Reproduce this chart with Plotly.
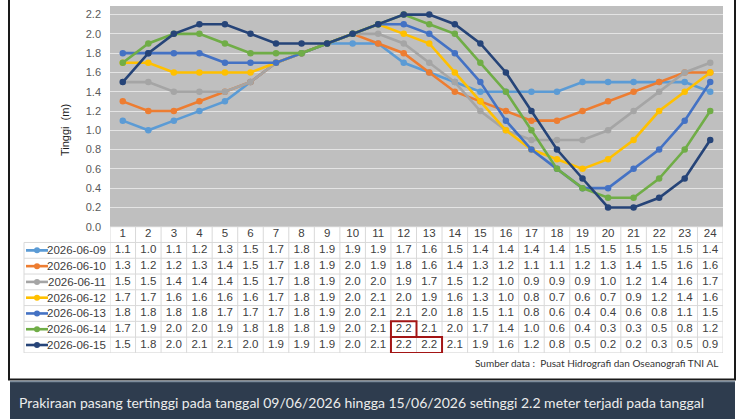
import plotly.graph_objects as go

W, H = 750, 420

hours = list(range(1, 25))
dates = ["2026-06-09", "2026-06-10", "2026-06-11", "2026-06-12",
         "2026-06-13", "2026-06-14", "2026-06-15"]
h0609 = [1.1, 1.0, 1.1, 1.2, 1.3, 1.5, 1.7, 1.8, 1.9, 1.9, 1.9, 1.7, 1.6, 1.5, 1.4, 1.4, 1.4, 1.4, 1.5, 1.5, 1.5, 1.5, 1.5, 1.4]
h0610 = [1.3, 1.2, 1.2, 1.3, 1.4, 1.5, 1.7, 1.8, 1.9, 2.0, 1.9, 1.8, 1.6, 1.4, 1.3, 1.2, 1.1, 1.1, 1.2, 1.3, 1.4, 1.5, 1.6, 1.6]
h0611 = [1.5, 1.5, 1.4, 1.4, 1.4, 1.5, 1.7, 1.8, 1.9, 2.0, 2.0, 1.9, 1.7, 1.5, 1.2, 1.0, 0.9, 0.9, 0.9, 1.0, 1.2, 1.4, 1.6, 1.7]
h0612 = [1.7, 1.7, 1.6, 1.6, 1.6, 1.6, 1.7, 1.8, 1.9, 2.0, 2.1, 2.0, 1.9, 1.6, 1.3, 1.0, 0.8, 0.7, 0.6, 0.7, 0.9, 1.2, 1.4, 1.6]
h0613 = [1.8, 1.8, 1.8, 1.8, 1.7, 1.7, 1.7, 1.8, 1.9, 2.0, 2.1, 2.1, 2.0, 1.8, 1.5, 1.1, 0.8, 0.6, 0.4, 0.4, 0.6, 0.8, 1.1, 1.5]
h0614 = [1.7, 1.9, 2.0, 2.0, 1.9, 1.8, 1.8, 1.8, 1.9, 2.0, 2.1, 2.2, 2.1, 2.0, 1.7, 1.4, 1.0, 0.6, 0.4, 0.3, 0.3, 0.5, 0.8, 1.2]
h0615 = [1.5, 1.8, 2.0, 2.1, 2.1, 2.0, 1.9, 1.9, 1.9, 2.0, 2.1, 2.2, 2.2, 2.1, 1.9, 1.6, 1.2, 0.8, 0.5, 0.2, 0.2, 0.3, 0.5, 0.9]
series = [h0609, h0610, h0611, h0612, h0613, h0614, h0615]
colors = ["#5B9BD5", "#ED7D31", "#A5A5A5", "#FFC000", "#4472C4", "#70AD47", "#264478"]
y_ticks = [0.0, 0.2, 0.4, 0.6, 0.8, 1.0, 1.2, 1.4, 1.6, 1.8, 2.0, 2.2]

y_title = "Tinggi  (m)"
source_text = "Sumber data :  Pusat Hidrografi dan Oseanografi TNI AL"
banner_text = ("Prakiraan pasang tertinggi pada tanggal 09/06/2026 hingga 15/06/2026 "
               "setinggi 2.2 meter terjadi pada tanggal")

def px(x):
    return x / W

def py(y):
    return 1 - y / H

PLOT_L, PLOT_R, PLOT_T, PLOT_B = 110, 723, 6, 230
TAB_B = 358
LABEL_L = 24

fig = go.Figure()

# chart lines
for d, vals, c in zip(dates, series, colors):
    fig.add_trace(go.Scatter(
        x=hours, y=vals, mode="lines+markers", name=d,
        line=dict(color=c, width=2.6), marker=dict(color=c, size=6.5),
        xaxis="x", yaxis="y", showlegend=False, hoverinfo="skip"))

tfont = dict(family="Liberation Sans, Arial", size=11.5, color="#404040")

# table header
fig.add_trace(go.Scatter(
    x=hours, y=[0] * len(hours), mode="text", text=[str(h) for h in hours],
    textfont=tfont, xaxis="x2", yaxis="y2", showlegend=False, hoverinfo="skip"))
# table values
for i, vals in enumerate(series):
    fig.add_trace(go.Scatter(
        x=hours, y=[i + 1] * len(hours), mode="text",
        text=[f"{v:.1f}" for v in vals], textfont=tfont,
        xaxis="x2", yaxis="y2", showlegend=False, hoverinfo="skip"))

shapes = []
# gray plot area background (below gridlines)
shapes.append(dict(type="rect", xref="x domain", yref="y domain", x0=0, x1=1, y0=0, y1=1,
                   fillcolor="#BFBFBF", line=dict(width=0), layer="below"))

grid_c = "#d9d9d9"
n_rows = len(series) + 1
# table horizontal borders
for k in range(n_rows + 1):
    yk = k - 0.5
    x0 = px(LABEL_L) if k >= 1 else px(PLOT_L)
    shapes.append(dict(type="line", xref="paper", yref="y2", x0=x0, x1=px(PLOT_R),
                       y0=yk, y1=yk, line=dict(color=grid_c, width=1), layer="below"))
# vertical borders
for j in range(len(hours) + 1):
    xj = j + 0.5
    shapes.append(dict(type="line", xref="x2", yref="y2", x0=xj, x1=xj,
                       y0=-0.5, y1=n_rows - 0.5, line=dict(color=grid_c, width=1), layer="below"))
shapes.append(dict(type="line", xref="paper", yref="y2", x0=px(LABEL_L), x1=px(LABEL_L),
                   y0=0.5, y1=n_rows - 0.5, line=dict(color=grid_c, width=1), layer="below"))

# legend keys in table
annotations = []
for i, (d, c) in enumerate(zip(dates, colors)):
    r = i + 1
    shapes.append(dict(type="line", xref="paper", yref="y2", x0=px(26), x1=px(48),
                       y0=r, y1=r, line=dict(color=c, width=2.6)))
    shapes.append(dict(type="circle", xref="paper", yref="y2", xsizemode="pixel",
                       ysizemode="pixel", xanchor=px(37), yanchor=r,
                       x0=-3, x1=3, y0=-3, y1=3, fillcolor=c, line=dict(color=c, width=0)))
    annotations.append(dict(xref="paper", yref="y2", x=px(108), y=r, xanchor="right",
                            yanchor="middle", text=d, showarrow=False, font=tfont))

# red boxes around maximum cells
vmax = max(max(s) for s in series)
for i, vals in enumerate(series):
    r = i + 1
    j = 0
    while j < len(vals):
        if vals[j] == vmax:
            k = j
            while k + 1 < len(vals) and vals[k + 1] == vmax:
                k += 1
            shapes.append(dict(type="rect", xref="x2", yref="y2",
                               x0=hours[j] - 0.5, x1=hours[k] + 0.5, y0=r - 0.5, y1=r + 0.5,
                               line=dict(color="#A31515", width=2)))
            j = k + 1
        else:
            j += 1

# frame
shapes.append(dict(type="rect", xref="paper", yref="paper", x0=px(9), x1=px(735),
                   y0=py(385), y1=py(-5), line=dict(color="#1a1a1a", width=2)))
# banner
shapes.append(dict(type="rect", xref="paper", yref="paper", x0=px(10), x1=px(735),
                   y0=py(425), y1=py(387), fillcolor="#2E3C4E", line=dict(width=0)))
shapes.append(dict(type="line", xref="paper", yref="paper", x0=px(10), x1=px(735),
                   y0=py(387), y1=py(387), line=dict(color="#7d8c9c", width=1.5)))

annotations.append(dict(xref="paper", yref="paper", x=px(65), y=py(132), text=y_title,
                        textangle=-90, showarrow=False,
                        font=dict(family="Liberation Sans, Arial", size=11, color="#1a1a1a"),
                        xanchor="center", yanchor="middle"))
annotations.append(dict(xref="paper", yref="paper", x=px(720), y=py(368), text=source_text,
                        showarrow=False, xanchor="right", yanchor="middle",
                        font=dict(family="Lato", size=10, color="#333333")))
annotations.append(dict(xref="paper", yref="paper", x=px(17), y=py(408), text=banner_text,
                        showarrow=False, xanchor="left", yanchor="middle",
                        font=dict(family="Lato", size=14, color="#ececec")))

fig.update_layout(
    width=W, height=H, margin=dict(l=0, r=0, t=0, b=0),
    paper_bgcolor="white", plot_bgcolor="rgba(0,0,0,0)",
    xaxis=dict(domain=[px(PLOT_L), px(PLOT_R)], range=[0.5, 24.5], showticklabels=False,
               showgrid=False, zeroline=False, ticks="", anchor="y"),
    yaxis=dict(domain=[py(PLOT_B), py(PLOT_T)], range=[0, 2.29], tickvals=y_ticks,
               ticktext=[f"{v:.1f}" for v in y_ticks], showgrid=True, gridcolor="#E4E4E4",
               gridwidth=1, zeroline=False, ticks="", ticklabelstandoff=8,
               tickfont=dict(family="Liberation Sans, Arial", size=11, color="#595959"),
               anchor="x"),
    xaxis2=dict(domain=[px(PLOT_L), px(PLOT_R)], range=[0.5, 24.5], visible=False, anchor="y2"),
    yaxis2=dict(domain=[py(TAB_B), py(PLOT_B)], range=[n_rows - 0.5, -0.5], visible=False,
                anchor="x2"),
    shapes=shapes, annotations=annotations,
)

fig.write_html("out.html")
